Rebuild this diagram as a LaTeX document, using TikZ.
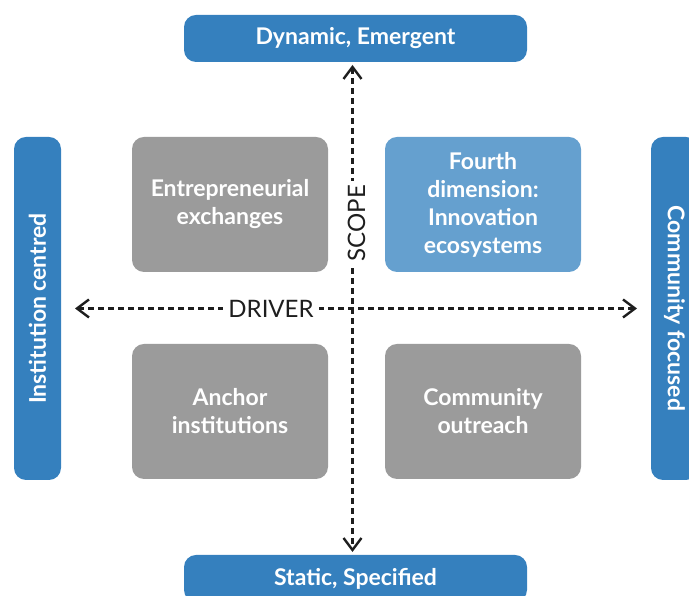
\documentclass[tikz,border=0pt]{standalone}
\usepackage{fontspec}
\setmainfont{Lato}
\usepackage{xcolor}
\usetikzlibrary{arrows.meta,positioning}
\definecolor{axisblue}{HTML}{3580BE}
\definecolor{fourthblue}{HTML}{65A0CF}
\definecolor{quadgrey}{HTML}{9B9B9B}
\definecolor{labelgrey}{HTML}{1E1E1E}
\tikzset{
    %Define standard arrow tip
    >={Straight Barb[length=12pt,width=18pt,line width=2.4pt]},
    %Define style for boxes
    axisbox/.style={
           rectangle,
           rounded corners=12pt,
           fill=axisblue,
           text=white,
           outer sep=0pt,
           font=\fontsize{23}{28}\selectfont\bfseries,
           text centered},
    quad/.style={
           rectangle,
           rounded corners=12pt,
           fill=quadgrey,
           text=white,
           outer sep=0pt,
           minimum width=196pt,
           minimum height=135pt,
           align=center,
           font=\fontsize{23}{28}\selectfont\bfseries},
    % Define arrow style
    pil/.style={
           <->,
           line width=2.4pt,
           draw=labelgrey,
           dash pattern=on 6pt off 4pt},
    axislabel/.style={
           fill=white,
           text=labelgrey,
           inner sep=5pt,
           font=\fontsize{24}{28}\selectfont}
}
\begin{document}
\begin{tikzpicture}[x=1pt,y=1pt,node distance=57pt]
\useasboundingbox (0,0) rectangle (689,596);
 %nodes
\node[axisbox, minimum width=343pt, minimum height=47pt] (dyn) at (355.5,557.5) {Dynamic, Emergent};
\node[axisbox, minimum width=343pt, minimum height=47pt] (stat) at (355.5,17.5) {Static, Specified};
\node[axisbox, minimum width=47pt, minimum height=343pt] (inst) at (37.5,287.5) {\rotatebox{90}{Institution centred}};
\node[axisbox, minimum width=47pt, minimum height=343pt] (comm) at (674.5,287.5) {\rotatebox{-90}{Community focused}};
\node[quad] (entre) at (230,391.5) {Entrepreneurial\\exchanges};
\node[quad, fill=fourthblue, right=of entre] (fourth) {Fourth\\dimension:\\Innovation\\ecosystems};
\node[quad, below=72pt of entre] (anchor) {Anchor\\institutions};
\node[quad, below=72pt of fourth] (outreach) {Community\\outreach};
 %axes
\draw[pil, shorten <=14pt, shorten >=14pt] (inst.east) -- node[axislabel, pos=0.356] {DRIVER} (comm.west);
\draw[pil, shorten <=3pt, shorten >=3pt] ([xshift=-3pt]dyn.south) -- node[axislabel, pos=0.327, xshift=4pt, inner sep=4pt] {\rotatebox{90}{SCOPE}} ([xshift=-3pt]stat.north);
\end{tikzpicture}
\end{document}
